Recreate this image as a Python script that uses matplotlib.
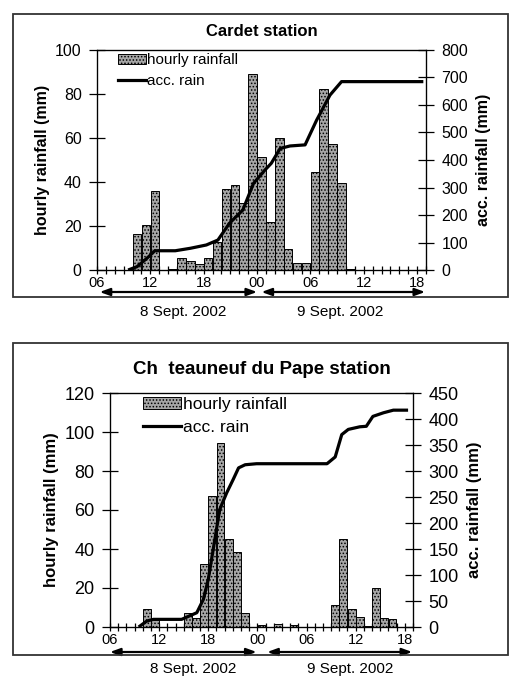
import matplotlib
matplotlib.use("Agg")
import matplotlib.pyplot as plt
from matplotlib.patches import Rectangle, Patch
from matplotlib.lines import Line2D
import numpy as np

plt.rcParams['font.family'] = ['Liberation Sans', 'DejaVu Sans']
plt.rcParams['hatch.linewidth'] = 0.7

# ---------------- data ----------------
# hours counted from 00h on 8 Sept. 2002 (24 = 00h on 9 Sept.)
xtick_hours = [6, 12, 18, 24, 30, 36, 42]
xtick_labels = ["06", "12", "18", "00", "06", "12", "18"]

# Cardet station
cardet_bar_hours = list(range(10, 35))
cardet_rain = [16.2, 20.5, 36.0, 0.0, 0.4, 5.6, 4.1, 2.7, 5.6, 12.9,
               36.8, 38.6, 30.3, 88.9, 51.5, 22.0, 60.2, 9.7, 3.3, 3.3,
               44.4, 82.4, 57.3, 39.7, 0.6]
cardet_acc_hours = [9.5, 10.5, 11.8, 12.5, 14.8, 16.5, 18.3, 19.6, 20.9, 22.4,
                    23.6, 24.9, 25.6, 26.6, 27.7, 29.4, 30.7, 32.2, 33.5, 42.7]
cardet_acc = [0, 12, 48, 70, 70, 79, 91, 109, 170, 218,
              315, 364, 388, 442, 451, 455, 545, 636, 685, 685]

# Chateauneuf du Pape station
chat_bar_hours = list(range(10, 41))
chat_rain = [9.4, 3.6, 0.0, 0.0, 0.0, 7.3, 4.8, 32.4, 67.4, 94.4,
             44.9, 38.4, 7.3, 0.0, 0.8, 0.0, 1.5, 0.0, 0.8, 0.0,
             0.0, 0.0, 0.0, 11.1, 44.9, 9.4, 5.3, 0.5, 19.8, 4.8, 3.9]
chat_acc_hours = [9.5, 10.5, 11.3, 14.75, 15.8, 16.6, 17.4, 18.0, 18.6, 19.4,
                  20.25, 21.05, 21.7, 22.5, 23.9, 32.5, 33.5, 34.3, 35.1, 36.5,
                  37.3, 38.1, 39.4, 40.6, 42.4]
chat_acc = [0, 11.5, 14.7, 14.7, 22, 27.5, 53, 91.5, 149, 226,
            258, 284, 306, 312, 314, 314, 327, 370, 380, 385,
            386, 405, 412, 417, 417]

BAR_FACE = '#a6a6a6'
BAR_HATCH = '.....'

# ---------------- figure ----------------
W, H = 511, 681
fig = plt.figure(figsize=(W / 100, H / 100), dpi=100)


def fy(y):
    return 1 - y / H


def frame(y0, y1):
    fig.patches.append(Rectangle((13 / W, fy(y1)), 495 / W, (y1 - y0) / H,
                                 transform=fig.transFigure, fill=False,
                                 edgecolor='#333333', linewidth=1.3))


def panel(rect, bar_hours, rain, acc_hours, acc, ylim_l, yticks_l, ylim_r, yticks_r,
          title, title_y, title_size, tick_size, lab_size, leg_size, leg_anchor,
          handlelen, arrow_y, arrows, date_y, date_x):
    x0, y0, x1, y1 = rect
    ax = fig.add_axes([x0 / W, fy(y1), (x1 - x0) / W, (y1 - y0) / H])
    ax.bar(np.array(bar_hours) + 0.02, rain, width=0.96, align='edge',
           facecolor=BAR_FACE, edgecolor='black', linewidth=0.7,
           hatch=BAR_HATCH, zorder=2)
    ax.set_xlim(6, 43)
    ax.set_ylim(*ylim_l)
    ax.set_yticks(yticks_l)
    ax.set_xticks(xtick_hours)
    ax.set_xticklabels(xtick_labels)
    ax.set_xticks(np.arange(6, 44), minor=True)
    ax.tick_params(axis='x', which='both', direction='inout', length=6,
                   width=0.9, labelsize=10.5, pad=1)
    ax.tick_params(axis='y', direction='inout', length=12, width=0.9,
                   labelsize=tick_size, pad=5)
    ax.set_ylabel("hourly rainfall (mm)", fontsize=lab_size, fontweight='bold',
                  labelpad=4)
    for s in ax.spines.values():
        s.set_linewidth(0.9)

    ax2 = ax.twinx()
    ax2.plot(acc_hours, acc, color='black', linewidth=2.3, zorder=3,
             solid_capstyle='butt')
    ax2.set_ylim(*ylim_r)
    ax2.set_yticks(yticks_r)
    ax2.tick_params(axis='y', direction='inout', length=12, width=0.9,
                    labelsize=tick_size, pad=5)
    ax2.set_ylabel("acc. rainfall (mm)", fontsize=lab_size, fontweight='bold',
                   labelpad=6)
    ax2.set_xlim(6, 43)

    handles = [Patch(facecolor=BAR_FACE, edgecolor='black', hatch=BAR_HATCH,
                     linewidth=0.7),
               Line2D([0], [0], color='black', linewidth=2.3)]
    ax2.legend(handles, ["hourly rainfall", "acc. rain"], loc='upper left',
               bbox_to_anchor=leg_anchor, frameon=False, fontsize=leg_size,
               handlelength=handlelen, handleheight=0.7, handletextpad=0.1,
               labelspacing=0.45, borderaxespad=0, borderpad=0)

    fig.text(((x0 + x1) / 2) / W, fy(title_y), title, ha='center', va='center',
             fontsize=title_size, fontweight='bold')

    for (a, b) in arrows:
        ax.annotate("", xy=(b, H - arrow_y), xytext=(a, H - arrow_y),
                    xycoords=(ax.transData, 'figure pixels'),
                    textcoords=(ax.transData, 'figure pixels'),
                    arrowprops=dict(arrowstyle='<|-|>,head_length=0.6,head_width=0.22',
                                    color='black', lw=1.6, shrinkA=0, shrinkB=0),
                    annotation_clip=False)
    fig.text(date_x[0] / W, fy(date_y), "8 Sept. 2002", ha='center', va='center',
             fontsize=11)
    fig.text(date_x[1] / W, fy(date_y), "9 Sept. 2002", ha='center', va='center',
             fontsize=11)
    return ax, ax2


frame(14, 297)
frame(343, 655)

panel((97, 50, 426, 270), cardet_bar_hours, cardet_rain, cardet_acc_hours, cardet_acc,
      (0, 100), [0, 20, 40, 60, 80, 100], (0, 800), list(range(0, 801, 100)),
      "Cardet station", 32, 12, 11.5, 11.5, 11, (0.064, 0.985), 1.8,
      292, [(6.3, 24.0), (24.5, 42.9)], 312, (183, 340))

panel((110, 393, 413, 627), chat_bar_hours, chat_rain, chat_acc_hours, chat_acc,
      (0, 120), [0, 20, 40, 60, 80, 100, 120], (0, 450), list(range(0, 451, 50)),
      "Ch  teauneuf du Pape station", 370, 13.5, 13, 12, 12.5, (0.108, 0.985), 2.2,
      652, [(6.0, 23.9), (25.2, 42.9)], 669, (193, 350))

fig.savefig("out.png", dpi=100)
